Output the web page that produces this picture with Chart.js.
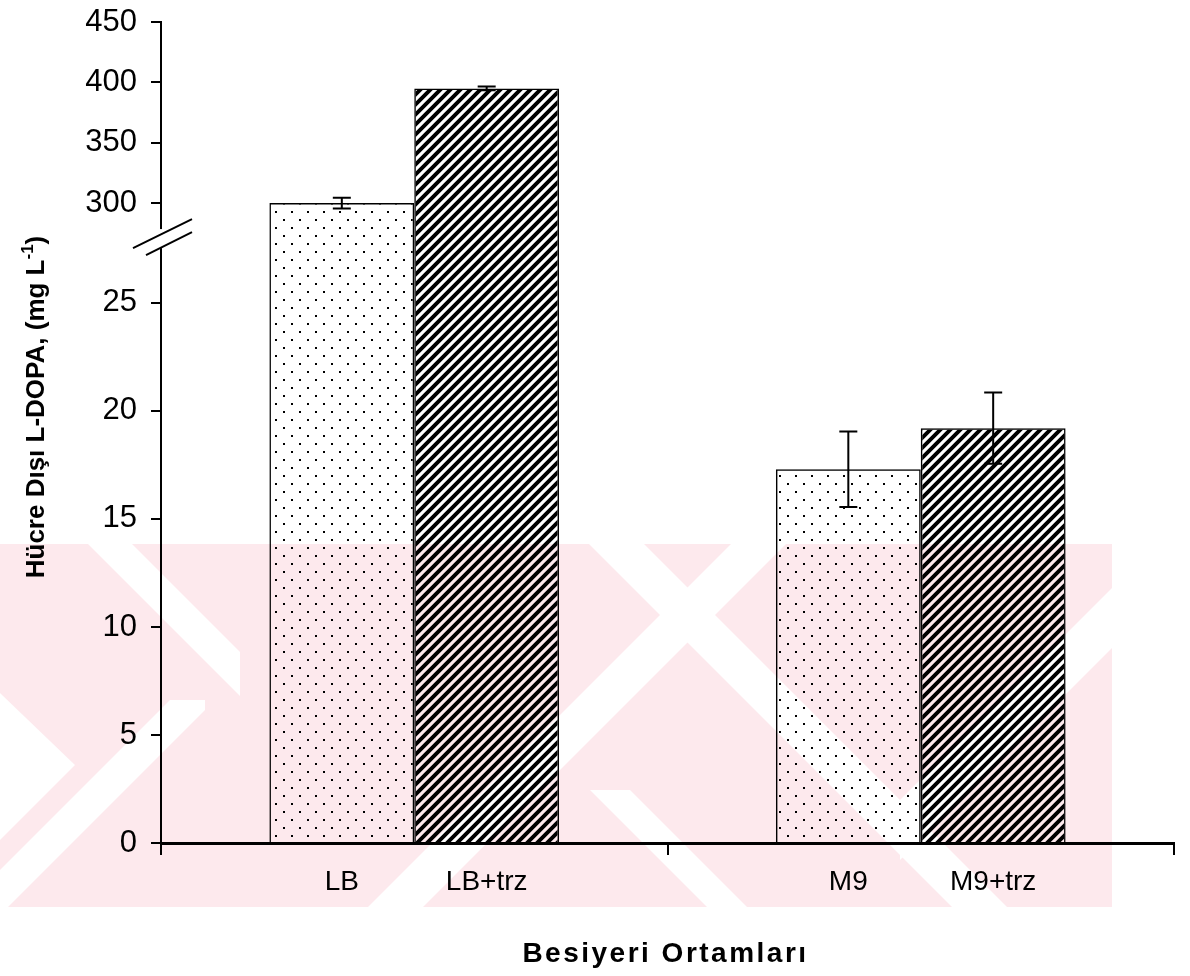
<!DOCTYPE html>
<html>
<head>
<meta charset="utf-8">
<script src="https://cdn.jsdelivr.net/npm/chart.js@4/dist/chart.umd.min.js"></script>
<style>
  html, body { margin: 0; background: #fff; }
  #wrap { width: 1190px; height: 976px; position: relative; }
</style>
</head>
<body>
<div id="wrap"><canvas id="chart"></canvas></div>
<script>
const groups = ["LB", "M9"];
const plainLabels = ["LB", "M9"];
const trzLabels = ["LB+trz", "M9+trz"];
const plainValues = [300, 17.3];
const plainErrors = [4.5, 1.75];
const trzValues = [395, 19.2];
const trzErrors = [1.5, 1.65];
const yTicks = [0, 5, 10, 15, 20, 25, 300, 350, 400, 450];
const xTitle = "Besiyeri Ortamları";

// broken axis: 0..LOW_MAX on the lower part, HIGH_MIN..max on the upper part
const LOW_MAX = 28;
const HIGH_MIN = 271;
const SPLIT = 0.7368;
const FONT = "'Liberation Sans', Arial, sans-serif";

class BrokenScale extends Chart.LinearScale {
    getPixelForValue(value) {
        if (value === null || isNaN(value)) return NaN;
        let d;
        if (value <= LOW_MAX) d = value / LOW_MAX * SPLIT;
        else if (value < HIGH_MIN) d = SPLIT;
        else d = SPLIT + (value - HIGH_MIN) / (this.max - HIGH_MIN) * (1 - SPLIT);
        return this.getPixelForDecimal(d);
    }
    getValueForPixel(pixel) {
        const d = this.getDecimalForPixel(pixel);
        return d <= SPLIT ? d / SPLIT * LOW_MAX : HIGH_MIN + (d - SPLIT) / (1 - SPLIT) * (this.max - HIGH_MIN);
    }
}
BrokenScale.id = "broken";
BrokenScale.defaults = Chart.LinearScale.defaults;
Chart.register(BrokenScale);

function makePattern(w, h, draw) {
    const c = document.createElement("canvas");
    c.width = w; c.height = h;
    const g = c.getContext("2d");
    draw(g);
    return g.createPattern(c, "repeat");
}
const dots = makePattern(16, 16, g => {
    g.fillStyle = "#000";
    g.fillRect(3, 3, 2, 2);
    g.fillRect(11, 11, 2, 2);
});
const hatch = makePattern(10, 10, g => {
    g.strokeStyle = "#000";
    g.lineWidth = 3.9;
    g.beginPath();
    g.moveTo(-5, 5); g.lineTo(5, -5);
    g.moveTo(0, 10); g.lineTo(10, 0);
    g.moveTo(5, 15); g.lineTo(15, 5);
    g.stroke();
});

// faint pink thesis watermark behind the plot
const watermark = {
    id: "watermark",
    beforeDraw(chart) {
        const ctx = chart.ctx;
        const T = 544, B = 907;
        ctx.save();
        ctx.beginPath();
        ctx.rect(0, T, 1112, B - T);
        ctx.clip();
        ctx.fillStyle = "#fde9ed";
        ctx.fillRect(0, T, 1112, B - T);
        ctx.fillStyle = "#fff";
        const poly = pts => {
            ctx.beginPath();
            ctx.moveTo(pts[0][0], pts[0][1]);
            pts.slice(1).forEach(p => ctx.lineTo(p[0], p[1]));
            ctx.closePath(); ctx.fill();
        };
        const back = (a, b) => poly([[a + T, T], [b + T, T], [b + B, B], [a + B, B]]); // x - y in [a, b]
        const fwd = (a, b) => poly([[a - T, T], [b - T, T], [b - B, B], [a - B, B]]);  // x + y in [a, b]
        const clipped = (x, y, w, h, fn) => {
            ctx.save(); ctx.beginPath(); ctx.rect(x, y, w, h); ctx.clip(); fn(); ctx.restore();
        };
        clipped(0, T, 240, 180, () => back(-456, -412));
        poly([[0, 693], [0, 840], [75, 765]]);
        clipped(0, 700, 205, 207, () => fwd(870, 915));
        fwd(1275, 1330);
        clipped(0, 790, 1112, 117, () => back(-200, -160));
        back(45, 100);
        clipped(900, T, 212, B - T, () => fwd(1700, 1760));
        ctx.restore();
    }
};

const errorBars = {
    id: "errorBars",
    afterDatasetsDraw(chart) {
        const ctx = chart.ctx, y = chart.scales.y;
        ctx.save();
        ctx.strokeStyle = "#000";
        ctx.lineWidth = 2;
        chart.data.datasets.forEach((ds, i) => {
            chart.getDatasetMeta(i).data.forEach((bar, j) => {
                const top = y.getPixelForValue(ds.data[j] + ds.errors[j]);
                const bot = y.getPixelForValue(ds.data[j] - ds.errors[j]);
                ctx.beginPath();
                ctx.moveTo(bar.x, top); ctx.lineTo(bar.x, bot);
                ctx.moveTo(bar.x - 9, top); ctx.lineTo(bar.x + 9, top);
                ctx.moveTo(bar.x - 9, bot); ctx.lineTo(bar.x + 9, bot);
                ctx.stroke();
            });
        });
        ctx.restore();
    }
};

const decorations = {
    id: "decorations",
    afterDraw(chart) {
        const ctx = chart.ctx, y = chart.scales.y, x = chart.scales.x;
        ctx.save();
        // bar labels under each bar
        ctx.fillStyle = "#000";
        ctx.font = "28px " + FONT;
        ctx.textAlign = "center";
        ctx.textBaseline = "alphabetic";
        chart.data.datasets.forEach((ds, i) => {
            chart.getDatasetMeta(i).data.forEach((bar, j) => {
                ctx.fillText(ds.barLabels[j], bar.x, 890);
            });
        });
        // x axis title
        ctx.font = "bold 28px " + FONT;
        ctx.letterSpacing = "2.5px";
        ctx.fillText(xTitle, (x.left + x.right) / 2 - 2, 962);
        ctx.letterSpacing = "0px";
        // axis break
        const yb = y.getPixelForDecimal(SPLIT);
        ctx.fillStyle = "#fff";
        ctx.fillRect(y.right - 4, yb - 9, 8, 19);
        ctx.strokeStyle = "#000";
        ctx.lineWidth = 2;
        ctx.beginPath();
        ctx.moveTo(y.right - 28, yb + 10); ctx.lineTo(y.right + 31, yb - 19);
        ctx.moveTo(y.right - 15, yb + 17); ctx.lineTo(y.right + 31, yb - 6);
        ctx.stroke();
        // y axis title with superscript
        ctx.translate(44, 407);
        ctx.rotate(-Math.PI / 2);
        ctx.fillStyle = "#000";
        const main = "Hücre Dışı L-DOPA, (mg L";
        const big = "bold 26px " + FONT;
        const small = "bold 17px " + FONT;
        ctx.font = big;
        const w1 = ctx.measureText(main).width;
        ctx.font = small;
        const w2 = ctx.measureText("-1").width;
        ctx.font = big;
        const w3 = ctx.measureText(")").width;
        const x0 = -(w1 + w2 + w3) / 2;
        ctx.textAlign = "left";
        ctx.fillText(main, x0, 0);
        ctx.font = small;
        ctx.fillText("-1", x0 + w1, -11);
        ctx.font = big;
        ctx.fillText(")", x0 + w1 + w2, 0);
        ctx.restore();
    }
};

new Chart(document.getElementById("chart"), {
    type: "bar",
    data: {
        labels: groups,
        datasets: [
            { label: "Kontrol", data: plainValues, errors: plainErrors, barLabels: plainLabels,
              backgroundColor: dots, borderColor: "#000", borderWidth: 1.5,
              barPercentage: 1, categoryPercentage: 0.572 },
            { label: "trz", data: trzValues, errors: trzErrors, barLabels: trzLabels,
              backgroundColor: hatch, borderColor: "#000", borderWidth: 1.5,
              barPercentage: 1, categoryPercentage: 0.572 }
        ]
    },
    options: {
        responsive: true,
        maintainAspectRatio: false,
        animation: false,
        layout: { padding: { top: 22, right: 16, left: 0, bottom: 0 } },
        plugins: { legend: { display: false }, tooltip: { enabled: true } },
        scales: {
            x: {
                type: "category",
                offset: true,
                grid: { offset: true, drawOnChartArea: false, drawTicks: true, tickLength: 12, color: "#000", lineWidth: 2 },
                border: { display: true, color: "#000", width: 3 },
                ticks: { display: false },
                afterFit: s => { s.height = 133; s.paddingLeft = 0; s.paddingRight = 0; }
            },
            y: {
                type: "broken",
                min: 0,
                max: 450,
                afterBuildTicks: s => { s.ticks = yTicks.map(v => ({ value: v })); },
                grid: { drawOnChartArea: false, drawTicks: true, tickLength: 10, color: "#000", lineWidth: 2 },
                border: { display: true, color: "#000", width: 2 },
                ticks: { color: "#000", padding: 14, autoSkip: false, callback: v => String(v),
                         font: { family: FONT, size: 31 } },
                afterFit: s => { s.width = 161; s.paddingTop = 0; s.paddingBottom = 0; }
            }
        }
    },
    plugins: [watermark, errorBars, decorations]
});
</script>
</body>
</html>
